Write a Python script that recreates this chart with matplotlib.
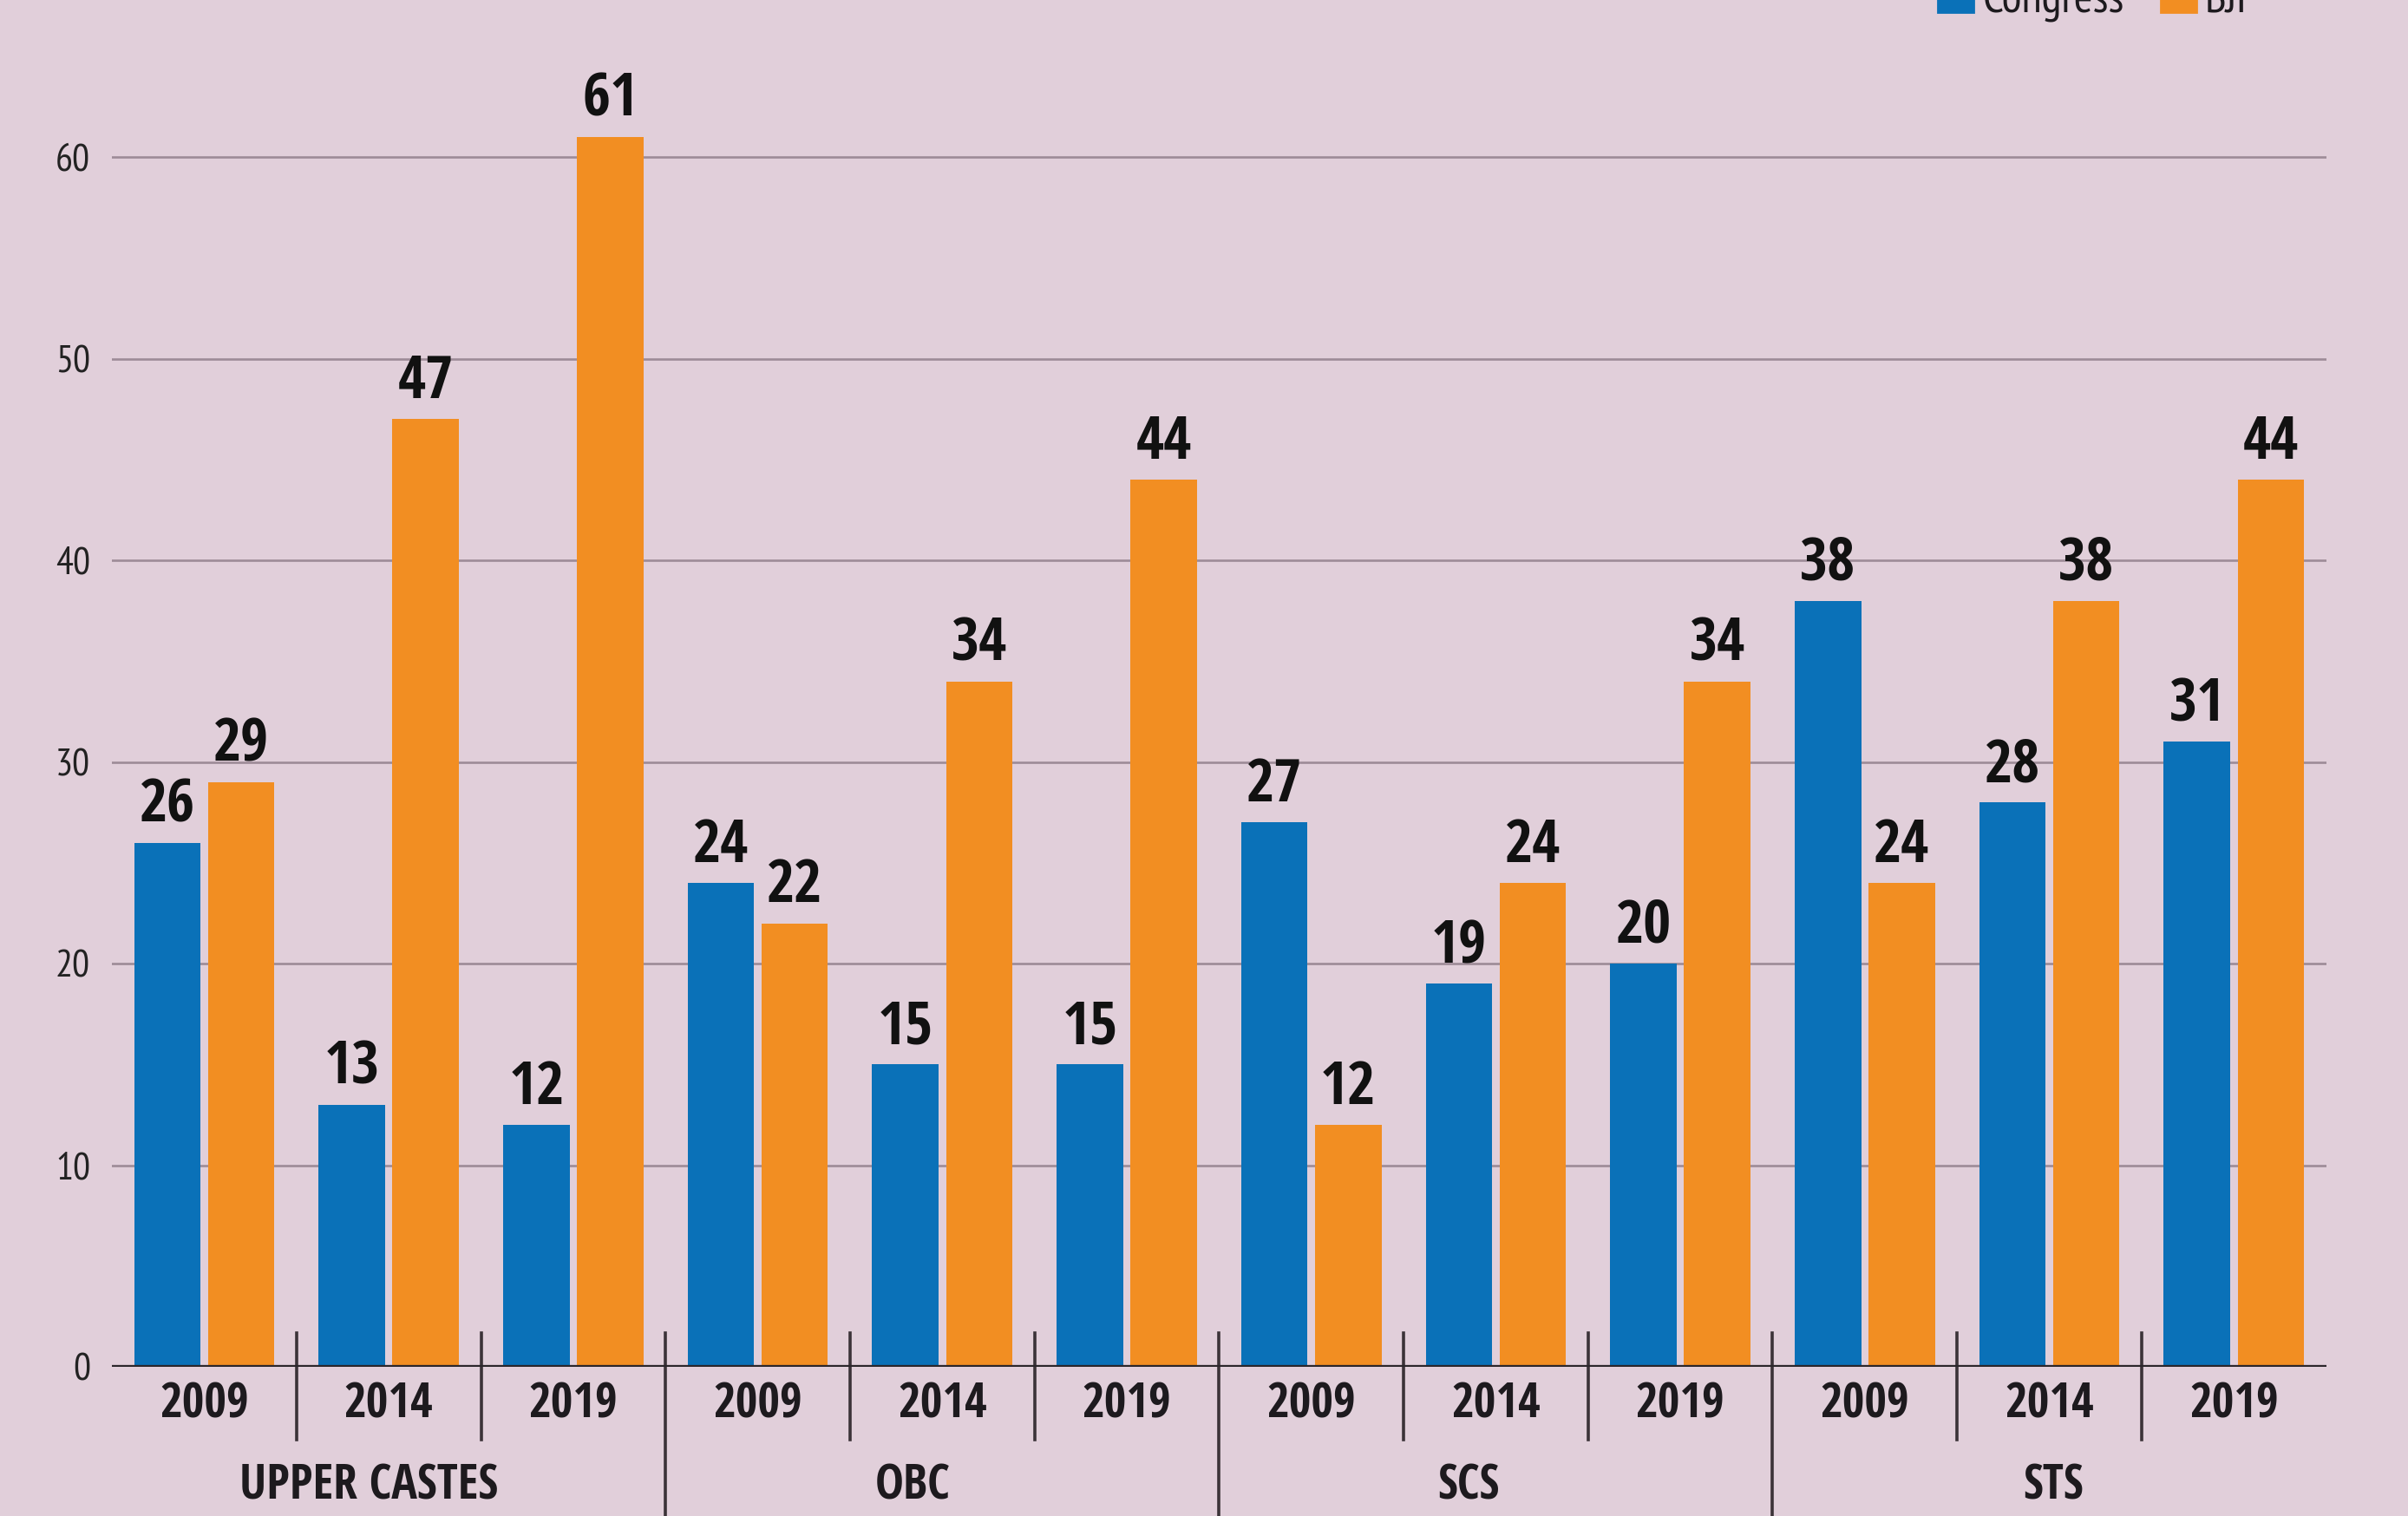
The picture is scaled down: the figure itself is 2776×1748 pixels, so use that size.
import numpy as np
import matplotlib.pyplot as plt
from matplotlib.patches import Rectangle

years = ['2009', '2014', '2019']
groups = ['UPPER CASTES', 'OBC', 'SCS', 'STS']
congress = [26, 13, 12, 24, 15, 15, 27, 19, 20, 38, 28, 31]
bjp = [29, 47, 61, 22, 34, 44, 12, 24, 34, 24, 38, 44]
yticks = [0, 10, 20, 30, 40, 50, 60]

blue = '#0a71b8'
orange = '#f28e22'
bg = '#e1cfda'
ink = '#1d1a1e'
bold_fam = ['Open Sans Condensed', 'PT Sans Narrow', 'DejaVu Sans']
reg_fam = ['PT Sans Narrow', 'DejaVu Sans']

fig = plt.figure(figsize=(13.88, 8.74), dpi=200, facecolor=bg)
ax = fig.add_axes([0.0465, 0.0984, 0.9195, 0.9016])
ax.set_facecolor(bg)

x = np.arange(len(congress))
w = 0.36
ax.bar(x - 0.2, congress, w, color=blue, zorder=3)
ax.bar(x + 0.2, bjp, w, color=orange, zorder=3)

for xi, v in zip(x - 0.2, congress):
    ax.text(xi, v + 0.35, str(v), ha='center', va='bottom', fontsize=25,
            fontweight='bold', family=bold_fam, color='#111111', zorder=4)
for xi, v in zip(x + 0.2, bjp):
    ax.text(xi, v + 0.35, str(v), ha='center', va='bottom', fontsize=25,
            fontweight='bold', family=bold_fam, color='#111111', zorder=4)

ax.set_xlim(-0.5, 11.5)
ax.set_ylim(0, 67.8)
ax.set_yticks(yticks)
ax.set_yticklabels([str(t) for t in yticks], fontsize=16, family=reg_fam, color='#222222')
ax.tick_params(axis='y', length=0, pad=9)
ax.set_xticks([])
for s in ax.spines.values():
    s.set_visible(False)

for t in yticks[1:]:
    ax.axhline(t, color='#9d8b97', lw=0.95, zorder=1)
ax.axhline(0, color='#2b262b', lw=1.9, zorder=5)

# year labels and separators
for i in range(len(congress)):
    ax.text(i, -1.9, years[i % 3], ha='center', va='center', fontsize=20,
            fontweight='bold', family=bold_fam, color=ink, clip_on=False)
for i in range(len(congress) - 1):
    sx = i + 0.5
    bottom = -9 if (i + 1) % 3 == 0 else -3.6
    ax.plot([sx, sx], [1.68, bottom], color='#3b3338', lw=1.3, clip_on=False, zorder=2)

group_label_x = [0.89, 3.84, 6.85, 10.02]
for gx, name in zip(group_label_x, groups):
    ax.text(gx, -5.95, name, ha='center', va='center', fontsize=20,
            fontweight='bold', family=bold_fam, color=ink, clip_on=False)

# legend, cut off by the top edge as in the source
H = 1748
W = 2776
fig.patches.append(Rectangle((2234 / W, 1 - 14 / H), 41 / W, 44 / H,
                             transform=fig.transFigure, color=blue))
fig.text(2286 / W, 1 - 14 / H, 'Congress', fontsize=19, family=reg_fam,
         va='baseline', ha='left', color=ink)
fig.patches.append(Rectangle((2491 / W, 1 - 14 / H), 41 / W, 44 / H,
                             transform=fig.transFigure, color=orange))
fig.text(2542 / W, 1 - 14 / H, 'BJP', fontsize=19, family=reg_fam,
         va='baseline', ha='left', color=ink)

fig.savefig('out.png', dpi=200, facecolor=bg)
